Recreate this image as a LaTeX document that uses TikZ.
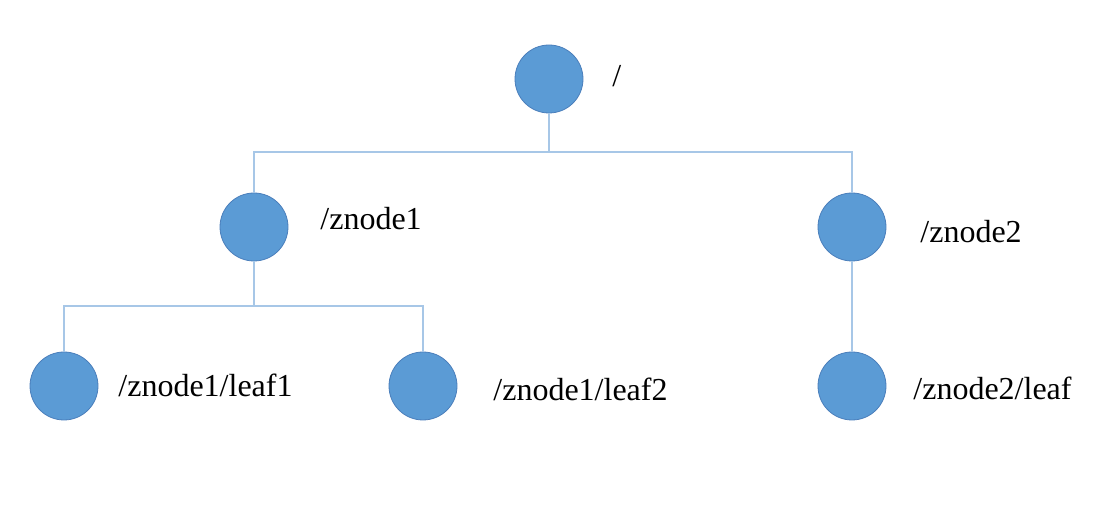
\documentclass[tikz,border=0pt]{standalone}
\usepackage{fontspec}
\setmainfont{Liberation Serif}
\usepackage{tikz}

\definecolor{zfill}{HTML}{5B9BD5}
\definecolor{zdraw}{HTML}{4A7EBB}
\definecolor{zline}{HTML}{A7C7E7}

\tikzset{
	znode/.style={circle, fill=zfill, draw=zdraw, line width=0.4pt, minimum size=34pt, inner sep=0pt},
	zlabel/.style={anchor=base west, inner sep=0pt, font=\fontsize{16}{19}\selectfont},
	zlink/.style={draw=zline, line width=1pt}
}

\begin{document}
\begin{tikzpicture}[x=0.5pt, y=-0.5pt]
	\useasboundingbox (0,0) rectangle (1100,512);
	
	\node[znode] (root) at (549,79) {};
	\node[znode] (z1) at (254,227) {};
	\node[znode] (z2) at (852,227) {};
	\node[znode] (leaf1) at (64,386) {};
	\node[znode] (leaf2) at (423,386) {};
	\node[znode] (leaf3) at (852,386) {};
	
	\coordinate (j1) at (549,152);
	\coordinate (j2) at (254,306);
	
	\draw[zlink] (root.south) -- (j1);
	\draw[zlink] (z1.north) |- (j1) -| (z2.north);
	\draw[zlink] (z1.south) -- (j2);
	\draw[zlink] (leaf1.north) |- (j2) -| (leaf2.north);
	\draw[zlink] (z2.south) -- (leaf3.north);
	
	\node[zlabel] (lroot) at (612,87) {/};
	\node[zlabel] (lz1) at (320,230) {/znode1};
	\node[zlabel] (lz2) at (920,243) {/znode2};
	\node[zlabel] (lleaf1) at (118,397) {/znode1/leaf1};
	\node[zlabel] (lleaf2) at (493,401) {/znode1/leaf2};
	\node[zlabel] (lleaf3) at (913,400) {/znode2/leaf};
\end{tikzpicture}
\end{document}
